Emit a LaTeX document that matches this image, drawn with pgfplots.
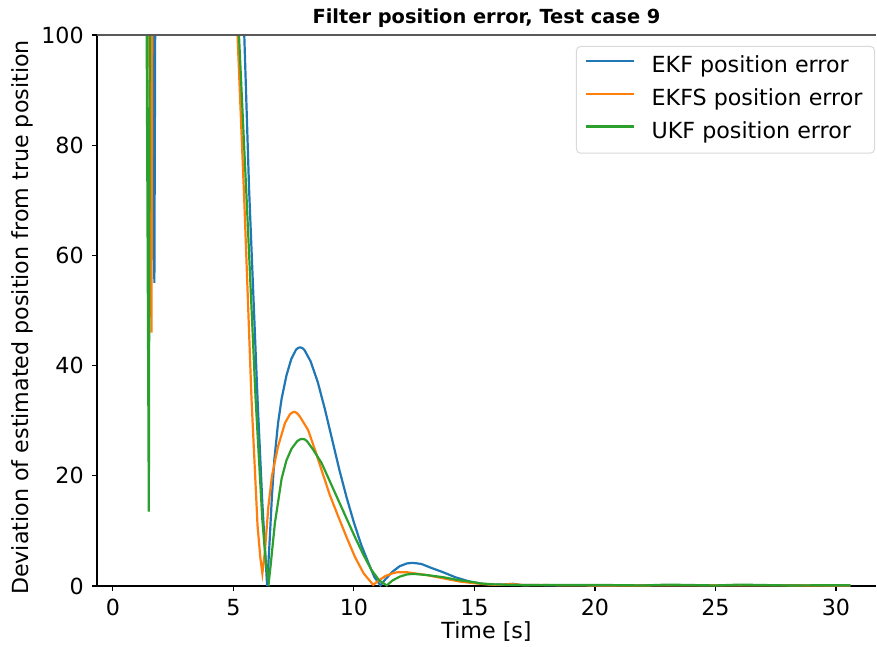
\documentclass[border=0pt]{standalone}
\usepackage{fontspec}
\setmainfont{DejaVu Sans}
\usepackage{pgfplots}
\pgfplotsset{compat=1.18}
\definecolor{tabblue}{HTML}{1F77B4}
\definecolor{taborange}{HTML}{FF7F0E}
\definecolor{tabgreen}{HTML}{2CA02C}
\newcommand{\lblfont}{\fontsize{11.1}{13}\selectfont}
\begin{document}
\begin{tikzpicture}
\useasboundingbox (-48.5pt,-30.5pt) rectangle (390pt,293pt);
\begin{axis}[
  at={(0,0)}, anchor=south west,
  scale only axis, width=389.5pt, height=275.5pt,
  xmin=-0.66, xmax=31.66, ymin=0, ymax=100,
  xtick={0,5,...,30}, ytick={0,20,...,100},
  axis lines=left, axis line style={-, line width=0.55pt, black},
  tick align=outside, major tick length=2.45pt,
  tick style={black, line width=0.55pt},
  minor tick num=0,
  clip mode=individual,
  /pgf/number format/assume math mode=true,
  ticklabel style={font=\lblfont},
  xticklabel style={inner sep=0pt, anchor=north, yshift=-4pt},
  yticklabel style={inner sep=0pt, anchor=east, xshift=-4pt},
  xlabel={Time [s]},
  ylabel={Deviation of estimated position from true position},
  xlabel style={font=\lblfont, at={(axis description cs:0.5,-0.0835)}, anchor=center},
  ylabel style={font=\lblfont, at={(axis description cs:-0.0963,0.4873)}, anchor=center},
  title={Filter position error, Test case 9},
  title style={font=\bfseries\fontsize{9.7}{11}\selectfont, at={(axis description cs:0.5,1.0091)}, anchor=center},
  legend cell align=left,
  legend image code/.code={\draw[#1, line width=1.1pt] (0pt,3pt) -- (24pt,3pt);},
  legend style={at={(rel axis cs:1,1)}, anchor=north east, xshift=-0.5pt, yshift=-5.5pt,
    draw=black!15, line width=0.5pt, rounded corners=2pt, fill=white, fill opacity=0.8,
    text opacity=1, draw opacity=1, font=\lblfont, inner xsep=4pt, inner ysep=5pt,
    row sep=5.9pt, column sep=8.5pt,
    nodes={inner sep=0pt, text height=8.2pt, text depth=2.3pt}},
]
\addplot[tabblue, line width=1.1pt] coordinates {
(0,300)(1.5,300)(1.72,55)(1.9,300)(5.0,300)(5.2,135)(5.45,100)(5.65,72)(6.0,34)(6.2,15)(6.4,0)
(6.5,8)(6.6,16.5)(6.7,23)(6.85,29.5)(7.0,34)(7.2,38.2)(7.4,41.2)(7.6,42.9)(7.7,43.25)(7.78,43.3)(7.87,43.15)(7.95,42.8)
(8.2,40.8)(8.5,37)(8.8,32)(9.1,26.5)(9.4,21)(9.7,16)(10.0,11.5)(10.3,7.5)(10.6,4.2)(10.85,1.6)
(11.1,0.1)(11.3,1.2)(11.6,2.6)(11.9,3.6)(12.2,4.1)(12.45,4.2)(12.8,4.0)(13.2,3.3)(13.7,2.5)
(14.2,1.6)(14.8,0.8)(15.3,0.4)(15.8,0.25)(16.3,0.3)(16.6,0.4)(16.9,0.2)(18,0.15)(20,0.1)(25,0.15)(30.6,0.1)
};
\addlegendentry{EKF position error}
\addplot[taborange, line width=1.1pt] coordinates {
(0,300)(1.3,210)(1.6,46)(1.65,136)(1.8,300)(4.9,300)(5.0,120)(5.17,100)(5.45,70)(5.75,34)(6.0,11)
(6.12,5)(6.2,2.3)(6.3,6)(6.45,14.4)(6.6,20)(6.85,25.3)(7.14,29.6)(7.35,31.2)(7.45,31.5)(7.54,31.6)(7.63,31.4)(7.75,30.8)
(8.1,28.3)(8.4,24.5)(8.66,21)(9.0,16.5)(9.35,12.6)(9.7,8.8)(10.04,5.3)(10.4,2.3)(10.8,0.2)(11.0,0.9)
(11.3,1.8)(11.6,2.3)(11.8,2.5)(12.2,2.5)(13.0,2.0)(13.7,1.4)(14.4,0.8)(15.0,0.5)(15.5,0.3)(16,0.2)
(16.5,0.35)(17,0.2)(20,0.1)(25,0.12)(30.6,0.1)
};
\addlegendentry{EKFS position error\hspace*{2pt}}
\addplot[tabgreen, line width=1.1pt] coordinates {
(0,300)(1.3,200)(1.49,13.5)(1.55,150)(1.7,300)(4.9,300)(5.0,130)(5.23,100)(5.55,70)(5.92,34)(6.2,12)
(6.35,4)(6.47,0.8)(6.55,4)(6.72,11.4)(7.0,19.5)(7.2,22.8)(7.41,24.9)(7.65,26.3)(7.76,26.6)(7.86,26.7)(7.96,26.6)(8.05,26.3)
(8.3,24.8)(8.66,22.3)(9.0,19)(9.35,15.6)(9.7,12.2)(10.04,8.9)(10.4,5.6)(10.73,2.9)(11.05,1.0)
(11.36,0.1)(11.6,1.0)(11.9,1.7)(12.2,2.1)(12.46,2.2)(13.0,2.0)(13.7,1.6)(14.3,1.1)(14.8,0.8)
(15.3,0.45)(15.8,0.3)(16.5,0.2)(17,0.15)(20,0.2)(22,0.1)(23,0.25)(25,0.1)(26,0.25)(28,0.1)(30.6,0.15)
};
\addlegendentry{UKF position error}
\draw[black!65, line width=0.55pt] (rel axis cs:0,1) -- (rel axis cs:1,1);
\end{axis}
\end{tikzpicture}
\end{document}
